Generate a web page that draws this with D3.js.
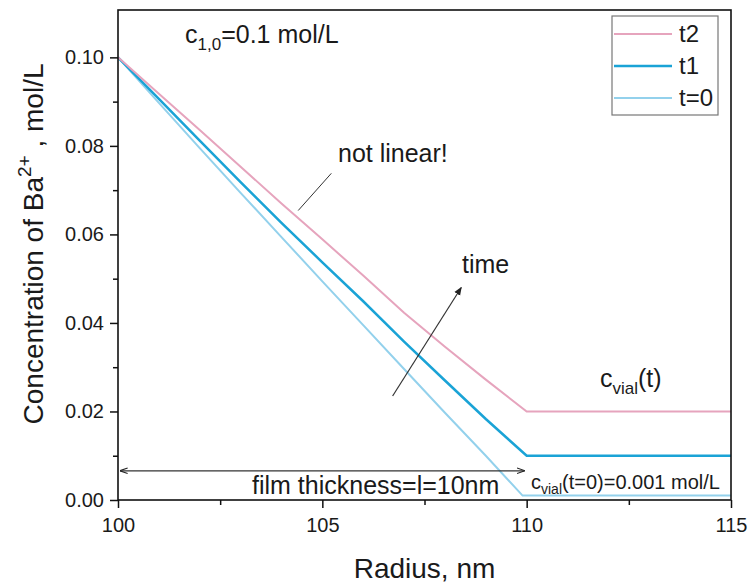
<!DOCTYPE html>
<html>
<head>
<meta charset="utf-8">
<script src="https://cdn.jsdelivr.net/npm/d3@7"></script>
<style>
  body { margin: 0; background: #fff; }
  text { font-family: "Liberation Sans", Arial, sans-serif; fill: #1a1a1a; }
</style>
</head>
<body>
<div id="chart"></div>
<script>
// data
var radius = [100, 101, 102, 103, 104, 105, 106, 107, 108, 109, 110, 115]
var concT2 = [0.1000, 0.0918, 0.0836, 0.0753, 0.0670, 0.0589, 0.0507, 0.0423, 0.0346, 0.0272, 0.0200, 0.0200]
var concT1 = [0.1000, 0.0906, 0.0812, 0.0718, 0.0626, 0.0537, 0.0449, 0.0358, 0.0270, 0.0183, 0.0100, 0.0100]
var radiusT0 = [100, 101, 102, 103, 104, 105, 106, 107, 108, 109, 109.9, 115]
var concT0 = [0.1000, 0.0897, 0.0795, 0.0694, 0.0594, 0.0494, 0.0395, 0.0296, 0.0197, 0.0100, 0.0010, 0.0010]

var seriesNames = ["t2", "t1", "t=0"]
var seriesColors = ["#e6a4bd", "#1aa3d6", "#93d1ec"]
var xTicks = [100, 105, 110, 115]
var xMinor = [102.5, 107.5, 112.5]
var yTicks = [0.00, 0.02, 0.04, 0.06, 0.08, 0.10]
var yMinor = [0.01, 0.03, 0.05, 0.07, 0.09]

var screen = {width: 749, height: 584}
var plot = {left: 118, right: 731, top: 10, bottom: 500}

var xscale = d3.scaleLinear().domain([100, 115]).range([plot.left, plot.right])
var yscale = d3.scaleLinear().domain([0, 0.1107]).range([plot.bottom, plot.top])

var svg = d3.select("#chart")
  .append("svg")
  .attr("width", screen.width)
  .attr("height", screen.height)

var series = [
  {name: seriesNames[0], color: seriesColors[0], x: radius, y: concT2, w: 2},
  {name: seriesNames[1], color: seriesColors[1], x: radius, y: concT1, w: 2.5},
  {name: seriesNames[2], color: seriesColors[2], x: radiusT0, y: concT0, w: 2}
]

var line = d3.line()
  .x(function (p) { return xscale(p[0]) })
  .y(function (p) { return yscale(p[1]) })

series.slice().reverse().forEach(function (s) {
  var pts = s.x.map(function (r, i) { return [r, s.y[i]] })
  svg.append("path")
    .attr("d", line(pts))
    .attr("fill", "none")
    .attr("stroke", s.color)
    .attr("stroke-width", s.w)
})

// axes
var xAxis = d3.axisBottom(xscale).tickValues(xTicks).tickSize(8).tickFormat(d3.format("d"))
var yAxis = d3.axisLeft(yscale).tickValues(yTicks).tickSize(8).tickFormat(d3.format(".2f"))

var gx = svg.append("g").attr("transform", "translate(0," + plot.bottom + ")").call(xAxis)
var gy = svg.append("g").attr("transform", "translate(" + plot.left + ",0)").call(yAxis)

// minor ticks
svg.append("g").attr("transform", "translate(0," + plot.bottom + ")")
  .call(d3.axisBottom(xscale).tickValues(xMinor).tickSize(5).tickFormat(""))
svg.append("g").attr("transform", "translate(" + plot.left + ",0)")
  .call(d3.axisLeft(yscale).tickValues(yMinor).tickSize(5).tickFormat(""))

svg.selectAll(".domain").remove()
svg.selectAll(".tick line").attr("stroke", "#111").attr("stroke-width", 1.5)
gx.selectAll("text").attr("font-size", 20).attr("dy", "1.05em")
gy.selectAll("text").attr("font-size", 20).attr("dx", "-0.15em")

// frame
svg.append("rect")
  .attr("x", plot.left).attr("y", plot.top)
  .attr("width", plot.right - plot.left).attr("height", plot.bottom - plot.top)
  .attr("fill", "none").attr("stroke", "#111").attr("stroke-width", 1.6)

// axis titles
svg.append("text")
  .attr("x", (plot.left + plot.right) / 2).attr("y", 578)
  .attr("text-anchor", "middle").attr("font-size", 28)
  .text("Radius, nm")

var yt = svg.append("text")
  .attr("transform", "translate(43,244) rotate(-90)")
  .attr("text-anchor", "middle").attr("font-size", 28)
yt.append("tspan").text("Concentration of Ba")
yt.append("tspan").attr("font-size", 19).attr("dy", -12).text("2+")
yt.append("tspan").attr("dy", 12).text(" , mol/L")

// legend
var legend = svg.append("g")
legend.append("rect")
  .attr("x", 612).attr("y", 16).attr("width", 106).attr("height", 99)
  .attr("fill", "#fff").attr("stroke", "#777").attr("stroke-width", 1.2)
series.forEach(function (s, i) {
  var ly = 34 + i * 32
  legend.append("line")
    .attr("x1", 614).attr("x2", 672).attr("y1", ly).attr("y2", ly)
    .attr("stroke", s.color).attr("stroke-width", s.w)
  legend.append("text")
    .attr("x", 679).attr("y", ly + 8).attr("font-size", 24)
    .text(s.name)
})

// annotations
var c10 = svg.append("text").attr("x", 185).attr("y", 43).attr("font-size", 25)
c10.append("tspan").text("c")
c10.append("tspan").attr("font-size", 17).attr("dy", 7).text("1,0")
c10.append("tspan").attr("dy", -7).text("=0.1 mol/L")

svg.append("text").attr("x", 338).attr("y", 162).attr("font-size", 25).text("not linear!")
svg.append("line")
  .attr("x1", xscale(105.22)).attr("y1", yscale(0.0738))
  .attr("x2", xscale(104.41)).attr("y2", yscale(0.0654))
  .attr("stroke", "#333").attr("stroke-width", 1)

svg.append("text").attr("x", 462).attr("y", 273).attr("font-size", 25).text("time")

var defs = svg.append("defs")
defs.append("marker").attr("id", "ah").attr("viewBox", "0 0 10 10")
  .attr("refX", 9).attr("refY", 5).attr("markerWidth", 7).attr("markerHeight", 7)
  .attr("orient", "auto-start-reverse")
  .append("path").attr("d", "M0,1 L10,5 L0,9 z").attr("fill", "#222")
defs.append("marker").attr("id", "av").attr("viewBox", "0 0 10 10")
  .attr("refX", 9.5).attr("refY", 5).attr("markerWidth", 8).attr("markerHeight", 8)
  .attr("markerUnits", "userSpaceOnUse")
  .attr("orient", "auto-start-reverse")
  .append("path").attr("d", "M0,1.5 L10,5 L0,8.5").attr("fill", "none")
  .attr("stroke", "#222").attr("stroke-width", 1.3)

svg.append("line")
  .attr("x1", xscale(106.72)).attr("y1", yscale(0.0235))
  .attr("x2", xscale(108.4)).attr("y2", yscale(0.0480))
  .attr("stroke", "#333").attr("stroke-width", 1.2)
  .attr("marker-end", "url(#ah)")

// film thickness arrow
svg.append("line")
  .attr("x1", xscale(100.05)).attr("y1", yscale(0.0066))
  .attr("x2", xscale(109.95)).attr("y2", yscale(0.0066))
  .attr("stroke", "#333").attr("stroke-width", 1.3)
  .attr("marker-start", "url(#av)").attr("marker-end", "url(#av)")

svg.append("text").attr("x", 252).attr("y", 494)
  .attr("font-size", 25).text("film thickness=l=10nm")

var cv0 = svg.append("text").attr("x", 531).attr("y", 489).attr("font-size", 20)
cv0.append("tspan").text("c")
cv0.append("tspan").attr("font-size", 14).attr("dy", 5).text("vial")
cv0.append("tspan").attr("dy", -5).text("(t=0)=0.001 mol/L")

var cvt = svg.append("text").attr("x", 600).attr("y", 387).attr("font-size", 25)
cvt.append("tspan").text("c")
cvt.append("tspan").attr("font-size", 17).attr("dy", 7).text("vial")
cvt.append("tspan").attr("dy", -7).text("(t)")
</script>
</body>
</html>
